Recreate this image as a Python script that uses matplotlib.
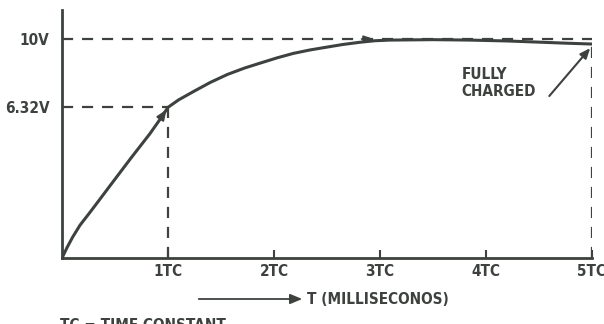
import matplotlib
matplotlib.use("Agg")
import matplotlib.pyplot as plt
from matplotlib import font_manager
from matplotlib.patches import FancyArrowPatch

# values (t in time constants, v in volts as drawn)
t_curve = [0, 0.05, 0.1, 0.17, 0.26, 0.36, 0.45, 0.55, 0.65, 0.74, 0.83, 0.92, 1.0,
           1.1, 1.24, 1.4, 1.56, 1.72, 1.87, 2.03, 2.18, 2.34, 2.5, 2.65, 2.81, 2.95,
           3.09, 3.5, 3.85, 4.2, 4.48, 4.75, 5.0]
v_curve = [0, 0.5, 0.95, 1.5, 2.06, 2.7, 3.28, 3.92, 4.56, 5.12, 5.68, 6.3, 6.88,
           7.22, 7.6, 8.02, 8.38, 8.67, 8.9, 9.14, 9.34, 9.5, 9.63, 9.75, 9.85, 9.92,
           9.95, 9.97, 9.95, 9.91, 9.86, 9.81, 9.77]
x_ticks = [1, 2, 3, 4, 5]
x_labels = ["1TC", "2TC", "3TC", "4TC", "5TC"]
y_ticks = [6.88, 10.0]
y_labels = ["6.32V", "10V"]
v_full = 10.0
t_marker = 1.0

ink = "#3d423f"

# look for a narrow face, the original lettering is condensed
cond = [f for f in font_manager.fontManager.ttflist
        if str(f.stretch) in ("condensed", "semi-condensed", "extra-condensed")]
family, stretch, weight = "Liberation Sans", "normal", "normal"
for pref in ["Noto Sans", "DejaVu Sans", "Open Sans", "Roboto", "Liberation Sans Narrow"]:
    hits = [f for f in cond if f.name == pref]
    if hits:
        family, stretch, weight = pref, hits[0].stretch, "bold"
        break
plt.rcParams["font.family"] = [family, "DejaVu Sans"]
plt.rcParams["font.stretch"] = stretch
plt.rcParams["font.weight"] = weight
fs = 11 if stretch != "normal" else 9.5

fig = plt.figure(figsize=(6.04, 3.24), dpi=100)
W, H = 604, 324
ax = fig.add_axes([62 / W, (H - 258) / H, (592 - 62) / W, (258 - 10) / H])
ax.set_xlim(0, 5)
ax.set_ylim(0, (258 - 10) / 21.9)

# curve
ax.plot(t_curve, v_curve, color=ink, lw=2.2, solid_capstyle="round",
        solid_joinstyle="round", zorder=3)

dash = dict(color=ink, lw=1.6, dashes=(5, 4))
# 10V level and 5TC drop
ax.plot([0, t_curve[-1]], [v_full, v_full], **dash)
ax.plot([t_curve[-1], t_curve[-1]], [0, v_curve[-1]], **dash)
# 1TC marker
ax.plot([0, t_marker], [y_ticks[0], y_ticks[0]], **dash)
ax.plot([t_marker, t_marker], [0, y_ticks[0]], **dash)

# small arrowheads
ax.annotate("", xy=(t_marker, y_ticks[0]), xytext=(0.92, 6.3),
            arrowprops=dict(arrowstyle="-|>,head_length=0.6,head_width=0.25", color=ink, lw=1.5))
ax.annotate("", xy=(2.97, v_full), xytext=(2.8, v_full),
            arrowprops=dict(arrowstyle="-|>,head_length=0.6,head_width=0.2", color=ink, lw=1.2))

# FULLY CHARGED
ax.text(3.77, 8.0, "FULLY\nCHARGED", color=ink, fontsize=fs, ha="left", va="center",
        linespacing=1.15)
ax.annotate("", xy=(5.0, 9.68), xytext=(4.58, 7.3),
            arrowprops=dict(arrowstyle="-|>,head_length=0.6,head_width=0.25", color=ink, lw=1.5))

for s in ["top", "right"]:
    ax.spines[s].set_visible(False)
for s in ["left", "bottom"]:
    ax.spines[s].set_color(ink)
    ax.spines[s].set_linewidth(2.0)

ax.set_xticks(x_ticks)
ax.set_xticklabels(x_labels)
ax.tick_params(axis="x", direction="in", length=6, width=1.5, color=ink, labelcolor=ink,
               labelsize=fs, pad=4)
ax.set_yticks(y_ticks)
ax.set_yticklabels(y_labels)
ax.tick_params(axis="y", length=0, labelcolor=ink, labelsize=fs, pad=9)

# axis caption with arrow
fig.patches.append(FancyArrowPatch(
    (196 / W, 1 - 299 / H), (305 / W, 1 - 299 / H), transform=fig.transFigure,
    arrowstyle="-|>,head_length=0.6,head_width=0.25", mutation_scale=12, color=ink, lw=1.3))
fig.text(307 / W, 1 - 300 / H, "T (MILLISECONOS)", color=ink, fontsize=fs,
         ha="left", va="center")
fig.text(60 / W, 1 - 318 / H, "TC = TIME CONSTANT", color=ink, fontsize=fs,
         ha="left", va="top")

fig.savefig("out.png", dpi=100)
